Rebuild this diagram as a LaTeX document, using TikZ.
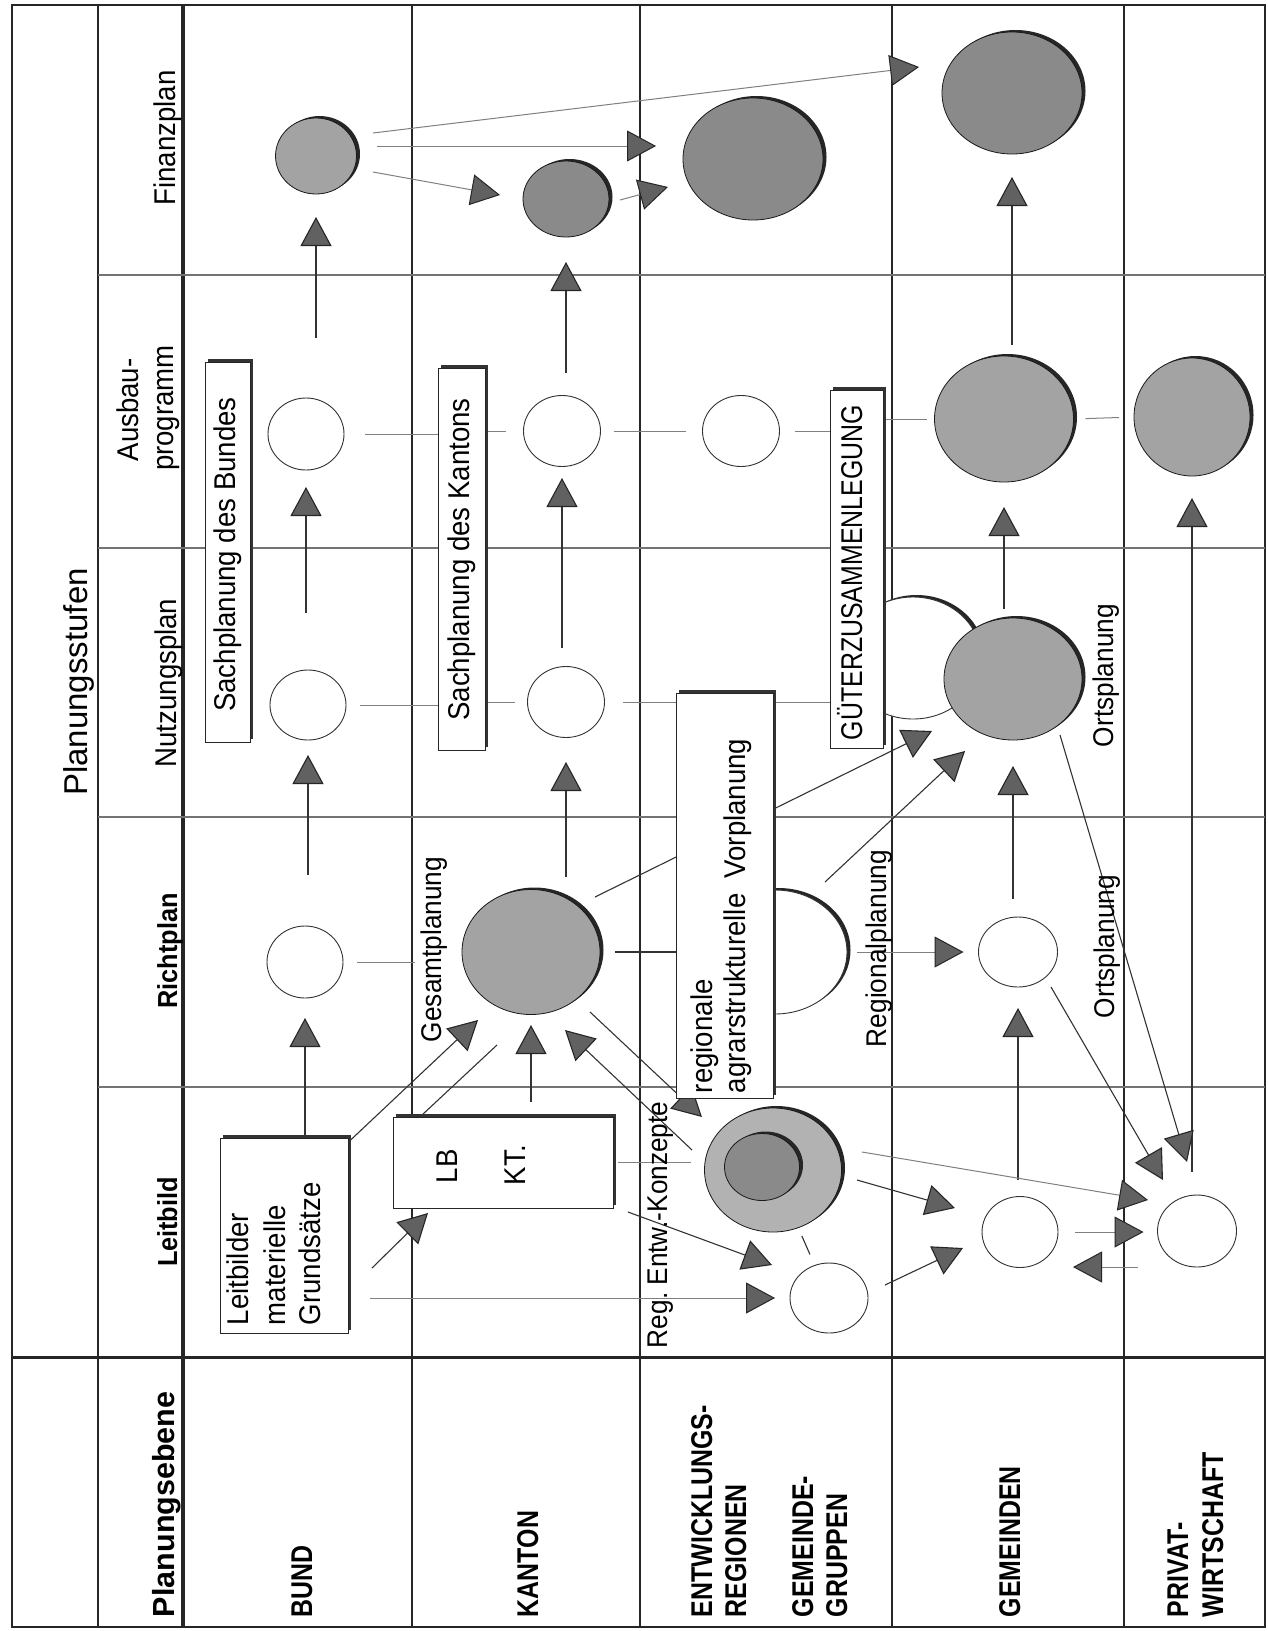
\documentclass[tikz,border=0pt]{standalone}
\usepackage{fontspec}
\usepackage{graphicx}
\setmainfont{Liberation Sans}[FakeStretch=0.92]
\newfontfamily\plainfont{Liberation Sans}
\newfontfamily\condfont{Liberation Sans}[FakeStretch=0.83]
\usetikzlibrary{arrows.meta,shapes.geometric,shadows,calc}
\pgfdeclarelayer{bg}
\pgfsetlayers{bg,main}
\tikzset{
  gridv/.style={line width=1.5pt, black!85},
  gridh/.style={line width=1.3pt, black!55},
  gridthick/.style={line width=3.5pt, black!85},
  shad/.style={drop shadow={shadow xshift=3.5pt, shadow yshift=2pt, fill=black!85, opacity=1}},
  wcirc/.style={ellipse, draw=black!80, line width=0.9pt, fill=white, inner sep=0pt, outer sep=0pt},
  scirc/.style={ellipse, draw=black!90, line width=0.8pt, fill=black!36, inner sep=0pt, outer sep=0pt, shad},
  dcirc/.style={scirc, fill=black!46},
  bx/.style={rectangle, draw=black!85, line width=1pt, fill=white, inner sep=0pt, outer sep=0pt,
     drop shadow={shadow xshift=3pt, shadow yshift=3pt, fill=black!80, opacity=1}},
  conn/.style={line width=1.1pt, black!80},
  hline/.style={line width=1pt, black!50},
  arr/.style={conn, -{Triangle[length=29pt, width=31pt, fill=black!62, color=black!85]}},
  harr/.style={hline, -{Triangle[length=29pt, width=31pt, fill=black!62, color=black!85]}},
  vt/.style={rotate=90, inner sep=0pt, outer sep=0pt},
  lab/.style={vt, anchor=base west, font=\fontsize{28.5}{34}\selectfont},
  btxt/.style={vt, anchor=base west, font=\fontsize{30}{36}\selectfont},
  ctxt/.style={vt, anchor=base, font=\fontsize{30}{36}\selectfont},
  hdr/.style={vt, anchor=base, font=\fontsize{30}{36}\selectfont},
  hdrb/.style={vt, anchor=base, font=\bfseries\fontsize{27.5}{33}\selectfont},
  rowl/.style={vt, anchor=base west, font=\condfont\bfseries\fontsize{30}{36}\selectfont},
}
\begin{document}
\begin{tikzpicture}[x=1pt, y=-1pt]
\begin{pgfonlayer}{bg}
\fill[white] (0,0) rectangle (1268,1631);
\end{pgfonlayer}
\useasboundingbox (0,0) rectangle (1268,1631);

% ---------- white circles partly hidden ----------
\node[wcirc, shad, minimum width=144pt, minimum height=124pt] (hR) at (775,952) {};
\node[wcirc, shad, minimum width=136pt, minimum height=122pt] (gW) at (913,658) {};

% ---------- boxes ----------
\node[bx, minimum width=128pt, minimum height=195pt] (bL) at (284,1235.5) {};
\node[bx, minimum width=220pt, minimum height=91pt] (lbkt) at (503,1162.5) {};
\node[bx, minimum width=45pt, minimum height=380pt] (sb) at (227.5,552) {};
\node[bx, minimum width=47pt, minimum height=382pt] (sk) at (461.5,559) {};
\node[bx, minimum width=97pt, minimum height=405pt] (rb) at (724.5,895.5) {};
\node[bx, minimum width=53pt, minimum height=358pt] (gb) at (856.5,569) {};

% ---------- circles ----------
\node[wcirc, minimum width=76pt, minimum height=72pt] (bR) at (305,962) {};
\node[wcirc, minimum width=76pt, minimum height=70pt] (bN) at (308,705) {};
\node[wcirc, minimum width=76pt, minimum height=72pt] (bA) at (306,434) {};
\node[scirc, minimum width=81pt, minimum height=76pt] (bF) at (316,156) {};
\node[scirc, minimum width=138pt, minimum height=125pt] (kR) at (531,952) {};
\node[wcirc, minimum width=77pt, minimum height=71pt] (kN) at (566,702) {};
\node[wcirc, minimum width=77pt, minimum height=71pt] (kA) at (562,431) {};
\node[dcirc, minimum width=86pt, minimum height=76pt] (kF) at (566,199) {};
\node[scirc, fill=black!30, minimum width=137pt, minimum height=124pt] (eLbig) at (773,1170) {};
\node[dcirc, minimum width=75pt, minimum height=67pt] (eLin) at (762,1167) {};
\node[wcirc, minimum width=78pt, minimum height=70pt] (eL) at (829,1298) {};
\node[wcirc, minimum width=77pt, minimum height=71pt] (eA) at (741,431) {};
\node[dcirc, minimum width=140pt, minimum height=122pt] (eF) at (753,159) {};
\node[wcirc, minimum width=76pt, minimum height=71pt] (gL) at (1020,1232) {};
\node[wcirc, minimum width=79pt, minimum height=70pt] (gR) at (1018,952) {};
\node[scirc, minimum width=138pt, minimum height=122pt] (gN) at (1013,679) {};
\node[scirc, minimum width=139pt, minimum height=126pt] (gA) at (1004,419) {};
\node[dcirc, minimum width=140pt, minimum height=122pt] (gF) at (1012,93) {};
\node[wcirc, minimum width=79pt, minimum height=72pt] (pL) at (1197,1231) {};
\node[scirc, minimum width=116pt, minimum height=118pt] (pA) at (1192,417) {};

% ---------- grid and connectors (background) ----------
\begin{pgfonlayer}{bg}
\draw[gridv, line width=2pt] (12,5) rectangle (1265,1627);
\foreach \xx in {98,412,640,892,1124} \draw[gridv] (\xx,5) -- (\xx,1627);
\draw[gridthick] (183,5) -- (183,1627);
\foreach \yy in {275,548,817,1087} \draw[gridh] (98,\yy) -- (1265,\yy);
\draw[gridthick, line width=3pt] (12,1357) -- (1265,1357);

% vertical arrows
\draw[arr, shorten >=20pt] (bR.south |- bL.north) -- (bR.south);
\draw[arr, shorten <=51pt, shorten >=15pt] (bN.south |- bR.north) -- (bN.south);
\draw[arr, shorten <=57pt, shorten >=17pt] (bA.south |- bN.north) -- (bA.south);
\draw[arr, shorten <=60pt, shorten >=23pt] (bF.south |- bA.north) -- (bF.south);
\draw[arr, shorten <=15pt, shorten >=10.5pt] (kR.south |- lbkt.north) -- (kR.south);
\draw[arr, shorten <=12.5pt, shorten >=24.5pt] (kN.south |- kR.north) -- (kN.south);
\draw[arr, shorten <=18.5pt, shorten >=11.5pt] (kA.south |- kN.north) -- (kA.south);
\draw[arr, shorten <=22.5pt, shorten >=25pt] (kF.south |- kA.north) -- (kF.south);
\draw[arr, shorten <=16.5pt, shorten >=21pt] (gR.south |- gL.north) -- (gR.south);
\draw[arr, shorten <=18pt, shorten >=26pt] (gN.south |- gR.north) -- (gN.south);
\draw[arr, shorten <=9pt, shorten >=25pt] (gA.south |- gN.north) -- (gA.south);
\draw[arr, shorten <=11pt, shorten >=23pt] (gF.south |- gA.north) -- (gF.south);
\draw[arr, shorten <=23pt, shorten >=22pt] (pA.south |- pL.north) -- (pA.south);

% Leitbild level
\draw[harr, shorten <=22pt, shorten >=15pt] (eL.west -| bL.east) -- (eL.west);
\draw[arr] ($(bL.south east)+(24,-65)$) -- ($(lbkt.south west)+(35,5)$);
\draw[arr] ($(bL.north east)+(-8,12)$) -- ($(kR)+(-53,68)$);
\draw[conn] ($(lbkt.north west)+(29,-2)$) -- ($(kR)+(-34,93)$);
\draw[hline, shorten <=5pt, shorten >=14pt] (lbkt.east) -- (lbkt.east -| eLbig.west);
\draw[arr] ($(eLbig)+(-81,-20)$) -- ($(kR)+(34,78)$);
\draw[arr] ($(kR)+(59,60)$) -- ($(eLbig)+(-71,-53)$);
\draw[arr] ($(lbkt.south east)+(15,4)$) -- ($(eL)+(-57,-33)$);
\draw[conn, shorten <=9pt, shorten >=12pt] (eLbig) -- (eL);
\draw[arr] ($(eLbig)+(84,10)$) -- ($(gL)+(-65,-24)$);
\draw[arr] ($(eL)+(56,-13)$) -- ($(gL)+(-57,16)$);
\draw[harr] ($(eLbig)+(89,-18)$) -- ($(pL)+(-49,-31)$);
\draw[harr, shorten <=17pt, shorten >=14pt] (gL.east) -- (gL.east -| pL.west);
\draw[harr] ($(pL)+(-59,36)$) -- ($(gL)+(53,35)$);
\draw[arr] ($(gR)+(33,35)$) -- ($(pL)+(-34,-51)$);
\draw[arr] ($(gN)+(47,56)$) -- ($(pL)+(-10,-69)$);

% Richtplan level
\draw[arr] ($(kR)+(64,-55)$) -- ($(gW)+(19,73)$);
\draw[arr] ($(hR)+(50,-70)$) -- ($(gN)+(-48,72)$);
\draw[conn, shorten <=15pt] (kR.east) -- (kR.east -| rb.west);
\draw[harr, shorten <=10pt, shorten >=15pt] (hR.east) -- (hR.east -| gR.west);
\draw[hline, shorten <=14pt] (bR.east) -- ([xshift=72pt]bR.east);

% Nutzungsplan level
\draw[hline, shorten <=14pt] (bN.east) -- (bN.east -| sk.west);
\draw[hline, shorten >=13pt] (kN.west -| sk.east) -- (kN.west);
\draw[hline, shorten <=18pt] (kN.east) -- (kN.east -| rb.west);
\draw[hline] (kN.east -| rb.east) -- (kN.east -| gb.west);

% Ausbauprogramm level
\draw[hline, shorten <=21pt] (bA.east) -- (bA.east -| sk.west);
\draw[hline, shorten >=18pt] (kA.west -| sk.east) -- (kA.west);
\draw[hline, shorten <=13pt, shorten >=17pt] (kA.east) -- (eA.west);
\draw[hline, shorten <=15pt] (eA.east) -- (eA.east -| gb.west);
\draw[hline, shorten >=8pt] (gA.west -| gb.east) -- (gA.west);
\draw[hline, shorten <=12pt, shorten >=15pt] (gA.east) -- (pA.west);

% Finanzplan level
\draw[harr] ($(bF)+(57,-23)$) -- ($(gF)+(-93,-26)$);
\draw[harr] ($(bF)+(61,-10)$) -- ($(eF)+(-97,-13)$);
\draw[harr] ($(bF)+(57,16)$) -- ($(kF)+(-66,-4)$);
\draw[harr] ($(kF)+(54,1)$) -- ($(eF)+(-85,28)$);
\end{pgfonlayer}

% ---------- box texts ----------
\node[btxt] (tl1) at (248,1325) {Leitbilder};
\node[btxt] (tl2) at (285,1325) {materielle};
\node[btxt] (tl3) at (320,1325) {Grundsätze};
\node[btxt] (tlb) at (457,1183) {LB};
\node[btxt] (tkt) at (525,1185) {KT.};
\node[ctxt] (tsb) at (235.5,554.5) {Sachplanung des Bundes};
\node[ctxt] (tsk) at (469.5,559.5) {Sachplanung des Kantons};
\node[btxt] (trb1) at (712,1093) {regionale};
\node[btxt] (trb2) at (745,1093) {agrarstrukturelle\ \ Vorplanung};
\node[vt, anchor=base west, font=\condfont\fontsize{30}{36}\selectfont] (tgb) at (862,740) {GÜTERZUSAMMENLEGUNG};

% ---------- floating labels ----------
\node[lab] (lges) at (441,1042) {Gesamtplanung};
\node[lab] (lreg) at (886,1047) {Regionalplanung};
\node[lab] (lrek) at (667,1348) {Reg.\ Entw.-Konzepte};
\node[lab] (lort1) at (1113,747) {Ortsplanung};
\node[lab] (lort2) at (1114,1018) {Ortsplanung};

% ---------- headers ----------
\node[vt, anchor=base, font=\plainfont\fontsize{33}{40}\selectfont] (hps) at (87,682) {Planungsstufen};
\node[hdrb] (hlb) at (177,1222) {Leitbild};
\node[hdrb] (hrp) at (177,951) {Richtplan};
\node[hdr] (hnp) at (176,683) {Nutzungsplan};
\node[hdr] (hab1) at (138,410) {Ausbau-};
\node[hdr] (hab2) at (173,408) {programm};
\node[hdr] (hfp) at (175,138) {Finanzplan};
\node[vt, anchor=base west, font=\plainfont\bfseries\fontsize{30.5}{36}\selectfont] (hpe) at (174,1617) {Planungsebene};

% ---------- row labels ----------
\node[rowl] (rbund) at (312,1617) {BUND};
\node[rowl] (rkant) at (538,1617) {KANTON};
\node[rowl] (rent1) at (712,1617) {ENTWICKLUNGS-};
\node[rowl] (rent2) at (746,1617) {REGIONEN};
\node[rowl] (rgg1) at (813,1617) {GEMEINDE-};
\node[rowl] (rgg2) at (847,1617) {GRUPPEN};
\node[rowl] (rgem) at (1020,1617) {GEMEINDEN};
\node[rowl] (rpw1) at (1188,1617) {PRIVAT-};
\node[rowl] (rpw2) at (1223,1617) {WIRTSCHAFT};
\end{tikzpicture}
\end{document}
